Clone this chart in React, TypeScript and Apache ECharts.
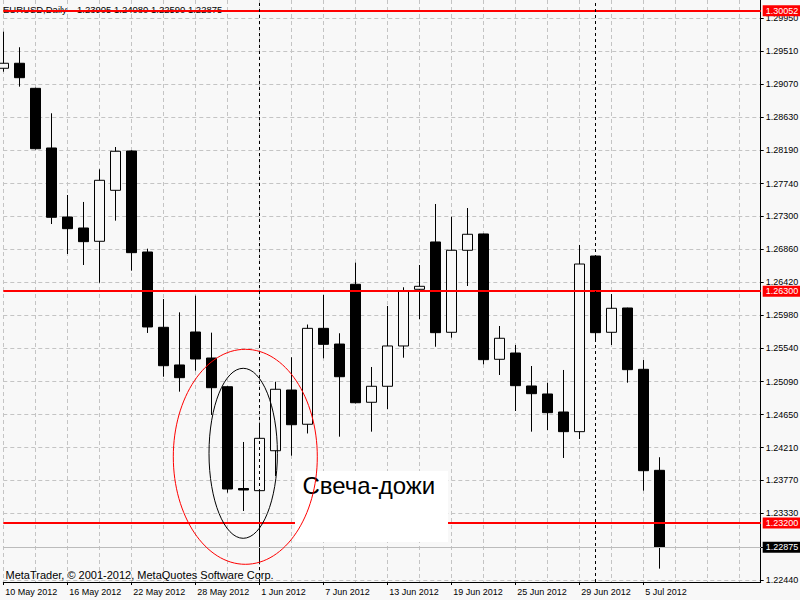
import React, { useEffect, useRef } from 'react';
import * as echarts from 'echarts';

const dates = [
  '10 May 2012', '11 May 2012', '14 May 2012', '15 May 2012', '16 May 2012', '17 May 2012', '18 May 2012',
  '21 May 2012', '22 May 2012', '23 May 2012', '24 May 2012', '25 May 2012', '28 May 2012', '29 May 2012',
  '30 May 2012', '31 May 2012', '1 Jun 2012', '4 Jun 2012', '5 Jun 2012', '6 Jun 2012', '7 Jun 2012',
  '8 Jun 2012', '11 Jun 2012', '12 Jun 2012', '13 Jun 2012', '14 Jun 2012', '15 Jun 2012', '18 Jun 2012',
  '19 Jun 2012', '20 Jun 2012', '21 Jun 2012', '22 Jun 2012', '25 Jun 2012', '26 Jun 2012', '27 Jun 2012',
  '28 Jun 2012', '29 Jun 2012', '2 Jul 2012', '3 Jul 2012', '4 Jul 2012', '5 Jul 2012', '6 Jul 2012',
];

const opens = [
  1.29282, 1.29349, 1.29014, 1.28216, 1.27293, 1.27146, 1.26968, 1.2765, 1.28176, 1.26825,
  1.25818, 1.25314, 1.25755, 1.25407, 1.25023, 1.23662, 1.23633, 1.24167, 1.24979, 1.24521,
  1.25804, 1.25594, 1.26393, 1.24815, 1.25029, 1.25568, 1.26326, 1.26959, 1.25751, 1.26848,
  1.27066, 1.2539, 1.25474, 1.25033, 1.24926, 1.24685, 1.24422, 1.26771, 1.25751, 1.26076,
  1.25256, 1.23905,
];
const closes = [
  1.29349, 1.29156, 1.28206, 1.27289, 1.27137, 1.26963, 1.27784, 1.28172, 1.26816, 1.25822,
  1.25304, 1.25144, 1.25394, 1.2501, 1.23655, 1.23642, 1.24333, 1.24989, 1.24515, 1.25804,
  1.2559, 1.25157, 1.24809, 1.25029, 1.25568, 1.26303, 1.26366, 1.25746, 1.26848, 1.27062,
  1.25385, 1.25671, 1.25037, 1.2493, 1.24676, 1.24422, 1.26664, 1.25746, 1.26072, 1.25251,
  1.239, 1.22875,
];
const lows = [
  1.29236, 1.29036, 1.28196, 1.27199, 1.26798, 1.26651, 1.26414, 1.27244, 1.26575, 1.25742,
  1.25157, 1.24957, 1.25237, 1.24645, 1.23606, 1.23361, 1.22648, 1.23829, 1.24101, 1.24398,
  1.25403, 1.24355, 1.24799, 1.24422, 1.24725, 1.25411, 1.25925, 1.25558, 1.25679, 1.2637,
  1.25323, 1.2518, 1.24698, 1.24422, 1.24444, 1.2407, 1.24324, 1.25639, 1.25581, 1.25077,
  1.23633, 1.2259,
];
const highs = [
  1.29771, 1.29563, 1.29022, 1.2868, 1.27587, 1.27494, 1.27931, 1.28229, 1.28185, 1.26869,
  1.26196, 1.26018, 1.2624, 1.25746, 1.25033, 1.24284, 1.24542, 1.2509, 1.25417, 1.25855,
  1.2625, 1.25738, 1.26682, 1.25287, 1.26103, 1.26353, 1.26651, 1.27467, 1.27297, 1.27413,
  1.2707, 1.25835, 1.25581, 1.253, 1.25077, 1.25247, 1.26919, 1.2678, 1.26263, 1.2608,
  1.2538, 1.2408,
];

const priceGrid = [
  1.2244, 1.2288, 1.2333, 1.2377, 1.2421, 1.2465, 1.2509, 1.2554, 1.2598, 1.2642,
  1.2686, 1.273, 1.2774, 1.2819, 1.2863, 1.2907, 1.2951, 1.2995,
];
const priceLabels = [
  1.2244, 1.2333, 1.2377, 1.2421, 1.2465, 1.2509, 1.2554, 1.2598, 1.2642,
  1.2686, 1.273, 1.2774, 1.2819, 1.2863, 1.2907, 1.2951, 1.2995,
];
const dateTicks = [0, 4, 8, 12, 16, 20, 24, 28, 32, 36, 40];
const levelLines = [1.30052, 1.263, 1.232];
const bidPrice = 1.22875;
const monthSeparators = [16, 37];

const headerSymbol = 'EURUSD,Daily';
const headerOhlc = '1.23905 1.24080 1.22590 1.22875';
const copyright = 'MetaTrader, © 2001-2012, MetaQuotes Software Corp.';
const annotation = 'Свеча-дожи';

const FONT = "'Liberation Sans', Arial, sans-serif";
const BG = '#f8f8f8';
const GRID_COLOR = '#c4c4c4';

export default function App() {
  const ref = useRef<HTMLDivElement>(null);

  useEffect(() => {
    if (!ref.current) return;
    const chart = echarts.init(ref.current, null, { renderer: 'svg', width: 800, height: 600 });

    const candleData = dates.map((_, i) => [i, opens[i], closes[i], lows[i], highs[i]]);
    const xMin = 0;
    const xMax = 47.3375;
    const yMin = 1.224114;
    const yMax = 1.301951;

    const priceLabel = (p: number, bg: string) => ({
      show: true,
      position: 'end',
      distance: 2,
      formatter: () => p.toFixed(5),
      color: '#fff',
      backgroundColor: bg,
      padding: [1, 3, 1, 3],
      fontSize: 9,
      fontFamily: FONT,
    });

    const option: any = {
      animation: false,
      backgroundColor: BG,
      textStyle: { fontFamily: FONT },
      grid: { left: 3.3, right: 39.3, top: 0, bottom: 18, outerBoundsMode: 'none' },
      xAxis: [
        {
          type: 'value',
          min: xMin,
          max: xMax,
          interval: 2,
          position: 'bottom',
          axisLine: { show: true, onZero: false, lineStyle: { color: '#000', width: 1 } },
          axisTick: { show: false },
          axisLabel: { show: false },
          splitLine: { show: true, lineStyle: { color: GRID_COLOR, type: [4, 3], width: 1 } },
        },
        {
          type: 'value',
          min: xMin,
          max: xMax,
          position: 'bottom',
          axisLine: { show: false, onZero: false },
          axisTick: {
            show: true,
            length: 3,
            inside: false,
            customValues: dateTicks,
            lineStyle: { color: '#000', width: 1 },
          },
          axisLabel: {
            show: true,
            customValues: dateTicks,
            formatter: (v: number) => dates[Math.round(v)] ?? '',
            align: 'left',
            margin: 5,
            padding: [0, 0, 0, 2],
            color: '#000',
            fontSize: 9,
            fontFamily: FONT,
          },
          splitLine: { show: false },
        },
      ],
      yAxis: {
        type: 'value',
        position: 'right',
        min: yMin,
        max: yMax,
        scale: true,
        axisLine: { show: true, onZero: false, lineStyle: { color: '#000', width: 1 } },
        axisTick: {
          show: true,
          length: 3,
          customValues: priceGrid,
          lineStyle: { color: '#000', width: 1 },
        },
        axisLabel: {
          show: true,
          customValues: priceLabels,
          formatter: (v: number) => v.toFixed(5),
          margin: 5,
          color: '#000',
          fontSize: 9,
          fontFamily: FONT,
        },
        splitLine: { show: true, lineStyle: { color: GRID_COLOR, type: [4, 3], width: 1 } },
      },
      series: [
        {
          type: 'candlestick',
          xAxisIndex: 0,
          yAxisIndex: 0,
          data: candleData,
          barWidth: 10,
          clip: true,
          itemStyle: {
            color: BG,
            color0: '#000',
            borderColor: '#000',
            borderColor0: '#000',
            borderColorDoji: '#000',
            borderWidth: 1,
          },
          markLine: {
            silent: true,
            precision: 5,
            symbol: ['none', 'none'],
            animation: false,
            data: [
              {
                yAxis: bidPrice,
                lineStyle: { color: '#bcbcbc', width: 1, type: 'solid' },
                label: priceLabel(bidPrice, '#000'),
              },
              ...levelLines.map((p) => ({
                yAxis: p,
                lineStyle: { color: '#ff0000', width: 2, type: 'solid' },
                label: priceLabel(p, '#ff0000'),
              })),
              ...monthSeparators.map((i) => ({
                xAxis: i,
                lineStyle: { color: '#000', width: 1, type: [3, 3] },
                label: { show: false },
              })),
            ],
          },
        },
      ],
      graphic: [
        {
          type: 'text',
          z: 1,
          x: 3,
          y: 9,
          style: { text: headerSymbol, fill: '#000', font: `9.5px ${FONT}`, textVerticalAlign: 'middle' },
        },
        {
          type: 'text',
          z: 1,
          x: 77,
          y: 9,
          style: { text: headerOhlc, fill: '#000', font: `9.5px ${FONT}`, textVerticalAlign: 'middle' },
        },
        {
          type: 'text',
          z: 1,
          x: 5.5,
          y: 575,
          style: { text: copyright, fill: '#000', font: `11px ${FONT}`, textVerticalAlign: 'middle' },
        },
        {
          type: 'rect',
          z: 100,
          shape: { x: 295, y: 471, width: 153, height: 71 },
          style: { fill: '#ffffff', stroke: 'none' },
        },
        {
          type: 'text',
          z: 101,
          x: 302.5,
          y: 485,
          style: { text: annotation, fill: '#000', font: `24px ${FONT}`, textVerticalAlign: 'middle' },
        },
        {
          type: 'ellipse',
          z: 102,
          shape: { cx: 245.3, cy: 456.8, rx: 72, ry: 107.5 },
          style: { fill: 'none', stroke: '#ff0000', lineWidth: 1 },
        },
        {
          type: 'ellipse',
          z: 102,
          shape: { cx: 243.2, cy: 453.3, rx: 34.2, ry: 85 },
          style: { fill: 'none', stroke: '#000', lineWidth: 1 },
        },
      ],
    };

    chart.setOption(option);
    return () => chart.dispose();
  }, []);

  return (
    <div
      ref={ref}
      style={{ position: 'absolute', left: 0, top: 0, width: 800, height: 600, background: BG }}
    />
  );
}
